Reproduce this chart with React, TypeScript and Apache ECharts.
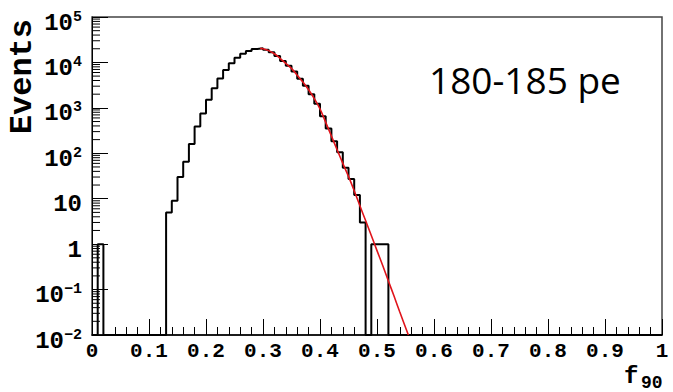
import React, { useEffect, useRef } from "react";
import * as echarts from "echarts";

// ---- data ----
const BIN_WIDTH = 0.01;
const binLeft = [
  0.01, 0.13, 0.14, 0.15, 0.16, 0.17, 0.18, 0.19, 0.2, 0.21, 0.22, 0.23, 0.24,
  0.25, 0.26, 0.27, 0.28, 0.29, 0.3, 0.31, 0.32, 0.33, 0.34, 0.35, 0.36, 0.37,
  0.38, 0.39, 0.4, 0.41, 0.42, 0.43, 0.44, 0.45, 0.46, 0.47, 0.49, 0.5, 0.51,
];
const binCounts = [
  1, 5, 9, 30, 65, 160, 390, 750, 1500, 2700, 4450, 6800, 9600, 12700, 15600,
  17800, 19800, 20400, 19000, 16800, 13800, 10800, 8400, 6300, 4400, 3050, 2000,
  1230, 650, 350, 185, 105, 48, 27, 12, 3, 1, 1, 1,
];
const fitX = [
  0.295, 0.3, 0.31, 0.32, 0.33, 0.34, 0.35, 0.36, 0.37, 0.38, 0.39, 0.4, 0.41,
  0.42, 0.43, 0.44, 0.45, 0.46, 0.47, 0.48, 0.49, 0.5, 0.51, 0.52, 0.53, 0.54,
  0.555,
];
const fitY = [
  20400, 20000, 18200, 15500, 12300, 9500, 7400, 5200, 3700, 2500, 1600, 950,
  480, 240, 120, 60, 31, 15, 7, 3.3, 1.55, 0.72, 0.34, 0.155, 0.071, 0.032, 0.01,
];
const X_MIN = 0;
const X_MAX = 1;
const Y_MIN = 0.01;
const Y_MAX = 100000;
const yDecades = [-2, -1, 0, 1, 2, 3, 4];
const yMinorMultipliers = [2, 3, 4, 5, 6, 7, 8, 9];
const annotation = "180-185 pe";

const MONO = '"Liberation Mono", "Courier New", monospace';

function buildOutline(): [number, number][] {
  const pts: [number, number][] = [[X_MIN, Y_MIN]];
  let prevRight = X_MIN;
  let prevVal = Y_MIN;
  for (let i = 0; i < binLeft.length; i++) {
    const lo = binLeft[i];
    const hi = +(lo + BIN_WIDTH).toFixed(4);
    const v = binCounts[i];
    if (Math.abs(lo - prevRight) > 1e-6) {
      pts.push([prevRight, Y_MIN]);
      pts.push([lo, Y_MIN]);
    } else {
      pts.push([lo, prevVal]);
    }
    pts.push([lo, v]);
    pts.push([hi, v]);
    prevRight = hi;
    prevVal = v;
  }
  pts.push([prevRight, Y_MIN]);
  pts.push([X_MAX, Y_MIN]);
  return pts;
}

function yLabel(v: number): string {
  const e = Math.round(Math.log10(v));
  if (e === 0) return "{b|1}";
  if (e === 1) return "{b|10}";
  const sup = e < 0 ? "\u2212" + Math.abs(e) : String(e);
  return "{b|10}{s|" + sup + "}";
}

export default function App() {
  const ref = useRef<HTMLDivElement>(null);
  useEffect(() => {
    if (!ref.current) return;
    const chart = echarts.init(ref.current, null, { renderer: "svg" });
    const minorY: [number, number][] = [];
    yDecades.forEach((e) =>
      yMinorMultipliers.forEach((m) => minorY.push([0, m * Math.pow(10, e)]))
    );
    chart.setOption({
      animation: false,
      backgroundColor: "#fff",
      grid: {
        left: 92,
        right: 11,
        top: 17,
        bottom: 57,
        show: true,
        borderColor: "#444",
        borderWidth: 1.5,
        backgroundColor: "transparent",
      },
      xAxis: {
        type: "value",
        min: X_MIN,
        max: X_MAX,
        interval: 0.1,
        axisLine: { show: true, onZero: false, lineStyle: { color: "#000", width: 1.5 } },
        axisTick: { show: true, inside: true, length: 16, lineStyle: { color: "#000", width: 1 } },
        minorTick: { show: true, splitNumber: 5, length: 8, lineStyle: { color: "#000", width: 1 } },
        splitLine: { show: false },
        minorSplitLine: { show: false },
        axisLabel: {
          margin: 6,
          color: "#000",
          fontFamily: MONO,
          fontWeight: "bold",
          fontSize: 21,
          formatter: (v: number) => String(Number(v.toFixed(1))),
        },
      },
      yAxis: {
        type: "log",
        logBase: 10,
        min: Y_MIN,
        max: Y_MAX,
        interval: 1,
        axisLine: { show: true, lineStyle: { color: "#000", width: 1 } },
        axisTick: { show: true, inside: true, length: 16, lineStyle: { color: "#000", width: 1 } },
        splitLine: { show: false },
        axisLabel: {
          margin: 10,
          color: "#000",
          formatter: yLabel,
          rich: {
            b: {
              fontFamily: MONO,
              fontWeight: "bold",
              fontSize: 24,
              padding: [12, 0, 0, 0],
            },
            s: {
              fontFamily: MONO,
              fontWeight: "bold",
              fontSize: 15,
            },
          },
        },
      },
      series: [
        {
          type: "line",
          data: buildOutline(),
          showSymbol: false,
          symbol: "none",
          lineStyle: { color: "#000", width: 2 },
          z: 3,
          silent: true,
        },
        {
          type: "line",
          data: fitX.map((x, i) => [x, fitY[i]]),
          showSymbol: false,
          symbol: "none",
          smooth: 0.3,
          lineStyle: { color: "#e0141b", width: 1.6 },
          z: 4,
          silent: true,
        },
        {
          type: "custom",
          data: minorY,
          silent: true,
          z: 5,
          renderItem: (params: any, api: any) => {
            const p = api.coord([api.value(0), api.value(1)]);
            return {
              type: "line",
              shape: { x1: p[0], y1: p[1], x2: p[0] + 8, y2: p[1] },
              style: { stroke: "#000", lineWidth: 1 },
            };
          },
        },
      ],
      graphic: [
        {
          type: "text",
          x: 22,
          y: 19,
          rotation: Math.PI / 2,
          style: {
            text: "Events",
            font: "bold 32px " + MONO,
            fill: "#000",
            align: "right",
            verticalAlign: "middle",
            textAlign: "right",
            textVerticalAlign: "middle",
          },
        },
        {
          type: "text",
          x: 624,
          y: 376,
          style: {
            text: "f",
            font: "bold 24px " + MONO,
            fill: "#000",
            align: "left",
            verticalAlign: "middle",
            textAlign: "left",
            textVerticalAlign: "middle",
          },
        },
        {
          type: "text",
          x: 641,
          y: 383,
          style: {
            text: "90",
            font: "bold 18px " + MONO,
            fill: "#000",
            align: "left",
            verticalAlign: "middle",
            textAlign: "left",
            textVerticalAlign: "middle",
          },
        },
        {
          type: "text",
          x: 429,
          y: 79,
          style: {
            text: annotation,
            font: '37px "Open Sans", "Noto Sans", sans-serif',
            fill: "#000",
            align: "left",
            verticalAlign: "middle",
            textAlign: "left",
            textVerticalAlign: "middle",
          },
        },
      ],
    });
    return () => chart.dispose();
  }, []);
  return <div ref={ref} style={{ width: 673, height: 392, position: "absolute", left: 0, top: 0 }} />;
}
